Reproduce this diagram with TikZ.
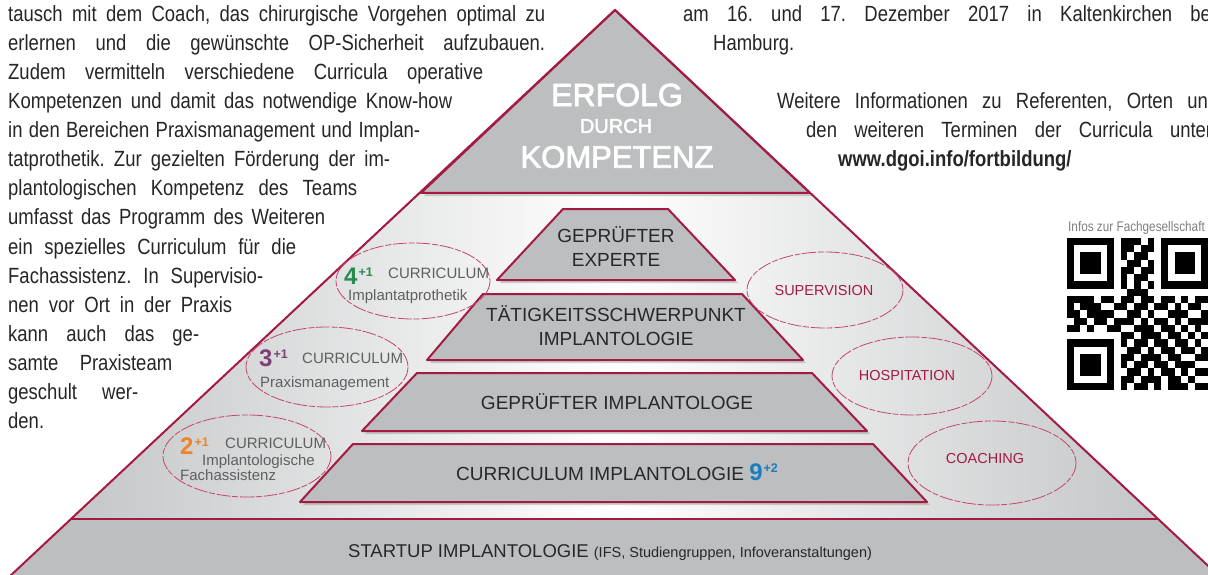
\documentclass[tikz,border=0pt]{standalone}
\usepackage{fontspec}
\setmainfont{Liberation Sans}
\newfontfamily\condfont[FakeStretch=0.84]{Liberation Sans}
\newfontfamily\medfont[FakeBold=2.5]{Liberation Sans}
\usetikzlibrary{shadows}
\frenchspacing

\definecolor{pyrred}{RGB}{163,27,66}
\definecolor{pyrgray}{RGB}{188,190,191}
\definecolor{sidegray}{RGB}{196,198,199}
\definecolor{ringred}{RGB}{196,70,104}
\definecolor{bodytxt}{RGB}{38,38,38}
\definecolor{tiertxt}{RGB}{40,40,40}
\definecolor{ringtxt}{RGB}{95,95,95}
\definecolor{currgreen}{RGB}{40,140,80}
\definecolor{currpurple}{RGB}{125,65,115}
\definecolor{currorange}{RGB}{240,130,40}
\definecolor{currblue}{RGB}{25,125,190}

\newcommand{\currnum}[2]{{\bfseries\fontsize{24}{24}\selectfont #1\kern1pt\raisebox{8pt}{\fontsize{12.5}{12.5}\selectfont #2}}}

\tikzset{
	tier/.style={fill=pyrgray, draw=pyrred, line width=2pt, line join=round, drop shadow={shadow xshift=3pt, shadow yshift=-3pt, opacity=.35}},
	tiertext/.style={text=tiertxt, font=\fontsize{19}{24}\selectfont, align=center, inner sep=0pt},
	ring/.style={draw=ringred, line width=.8pt, dash pattern=on 14pt off 2pt on 6pt off 1.5pt},
	ringtext/.style={text=ringtxt, font=\fontsize{15}{15}\selectfont, inner sep=0pt, anchor=base west},
	redtext/.style={text=pyrred, font=\fontsize{14.5}{14.5}\selectfont, inner sep=0pt},
	bodyline/.style={text=bodytxt, font=\condfont\fontsize{22}{29}\selectfont, inner sep=0pt, anchor=base west},
	toptext/.style={text=white, inner sep=0pt},
}

\begin{document}
\begin{tikzpicture}[x=1pt,y=-1pt]
	\useasboundingbox (0,0) rectangle (1208,575);
	\clip (0,0) rectangle (1208,575);
	\fill[white] (0,0) rectangle (1208,575);
	%% pyramid
	\fill[pyrgray] (71,519) -- (1158,519) -- (1220,577) -- (9,577) -- cycle;
	\fill[left color=sidegray, right color=sidegray, middle color=white] (421,193) -- (810,193) -- (1158,519) -- (71,519) -- cycle;
	\draw[pyrred, line width=2.5pt] (71,519) -- (1158,519);
	\draw[tier] (615,10) -- (810,193) -- (421,193) -- cycle;
	\draw[pyrred, line width=2pt] (9,577) -- (615,10) -- (1220,577);
	\draw[tier] (563,209) -- (668,209) -- (735,280) -- (497,280) -- cycle;
	\draw[tier] (483,294) -- (742,294) -- (803,360) -- (427,360) -- cycle;
	\draw[tier] (417,373) -- (812,373) -- (867,431) -- (362,431) -- cycle;
	\draw[tier] (353,444) -- (873,444) -- (927,502) -- (300,502) -- cycle;
	\node[toptext, font=\medfont\fontsize{32}{32}\selectfont] (erfolg) at (617,95) {ERFOLG};
	\node[toptext, font=\medfont\fontsize{20}{20}\selectfont] (durch) at (616,126) {DURCH};
	\node[toptext, font=\medfont\fontsize{31}{31}\selectfont] (kompetenz) at (617,157) {KOMPETENZ};
	\node[tiertext] (experte) at (616,247) {GEPRÜFTER\\EXPERTE};
	\node[tiertext] (schwerpunkt) at (616,326) {TÄTIGKEITSSCHWERPUNKT\\IMPLANTOLOGIE};
	\node[tiertext] (implantologe) at (617,402) {GEPRÜFTER IMPLANTOLOGE};
	\node[tiertext, anchor=base west] (curriculum) at (456,480) {CURRICULUM IMPLANTOLOGIE {\color{currblue}\currnum{9}{+2}}};
	\node[inner sep=0pt, anchor=base west, text=tiertxt] (startup) at (348,557) {\fontsize{18.5}{18.5}\selectfont STARTUP IMPLANTOLOGIE {\fontsize{14.5}{14.5}\selectfont(IFS, Studiengruppen, Infoveranstaltungen)}};
	%% ellipses
	\draw[ring] (413,281) ellipse [x radius=77, y radius=38];
	\draw[ring] (327,367) ellipse [x radius=81, y radius=40];
	\draw[ring] (247,456) ellipse [x radius=84, y radius=41];
	\draw[ring] (825,290) ellipse [x radius=78, y radius=38];
	\draw[ring] (912,376) ellipse [x radius=80, y radius=39];
	\draw[ring] (992,463) ellipse [x radius=84, y radius=42];
	\node[inner sep=0pt, anchor=base west, text=currgreen] (num4) at (344,284) {\currnum{4}{+1}};
	\node[ringtext] (cur4) at (388,278) {CURRICULUM};
	\node[ringtext] (prothetik) at (348,300) {Implantatprothetik};
	\node[inner sep=0pt, anchor=base west, text=currpurple] (num3) at (259,366) {\currnum{3}{+1}};
	\node[ringtext] (cur3) at (302,363) {CURRICULUM};
	\node[ringtext] (praxis) at (260,387) {Praxismanagement};
	\node[inner sep=0pt, anchor=base west, text=currorange] (num2) at (180,454) {\currnum{2}{+1}};
	\node[ringtext] (cur2) at (225,448) {CURRICULUM};
	\node[ringtext] (implant) at (202,465) {Implantologische};
	\node[ringtext] (fachass) at (180,480) {Fachassistenz};
	\node[redtext] (supervision) at (824,291) {SUPERVISION};
	\node[redtext] (hospitation) at (907,376) {HOSPITATION};
	\node[redtext] (coaching) at (985,459) {COACHING};
	%% text left
	\foreach \w/\txt [count=\k] in {537/{tausch mit dem Coach, das chirurgische Vorgehen optimal zu},
		537/{erlernen und die gewünschte OP-Sicherheit aufzubauen.},
		475/{Zudem vermitteln verschiedene Curricula operative},
		444/{Kompetenzen und damit das notwendige Know-how},
		412/{in den Bereichen Praxismanagement und Implan-},
		382/{tatprothetik. Zur gezielten Förderung der im-},
		349/{plantologischen Kompetenz des Teams},
		317/{umfasst das Programm des Weiteren},
		288/{ein spezielles Curriculum für die},
		255/{Fachassistenz. In Supervisio-},
		224/{nen vor Ort in der Praxis},
		191/{kann auch das ge-},
		164/{samte Praxisteam},
		130/{geschult wer-}}
		\node[bodyline] (bodyL\k) at (8,{21.5+29.07*(\k-1)}) {\makebox[\w pt][s]{\txt}};
	\node[bodyline] (bodyL15) at (8,428.5) {den.};
	%% text right
	\node[bodyline] (dateL) at (683,21.5) {\makebox[532pt][s]{am 16. und 17. Dezember 2017 in Kaltenkirchen bei}};
	\node[bodyline] (hamburg) at (713,50.6) {Hamburg.};
	\node[bodyline] (infoL1) at (777,108.7) {\makebox[441pt][s]{Weitere Informationen zu Referenten, Orten und}};
	\node[bodyline] (infoL2) at (806,137.8) {\makebox[406pt][s]{den weiteren Terminen der Curricula unter}};
	\node[bodyline, font=\condfont\bfseries\fontsize{22}{29}\selectfont] (url) at (838,166.9) {www.dgoi.info/fortbildung/};
	\node[inner sep=0pt, anchor=base west, text=black!50, font=\condfont\fontsize{14}{14}\selectfont] (qrinfo) at (1068,231) {Infos zur Fachgesellschaft};
	%% QR
	\begin{scope}[shift={(1067,238)}, x=6.72pt, y=-7.24pt]
		\foreach \fx/\fy in {0/0,14/0,0/14}{
			\fill (\fx,\fy) rectangle ++(7,7);
			\fill[white] (\fx+1,\fy+1) rectangle ++(5,5);
			\fill (\fx+2,\fy+2) rectangle ++(3,3);
		}
		\foreach \r/\cs in {0/{8,9,10,12},1/{8,9,11,12},2/{8,10,11},3/{9,10,12},4/{8,9,11,12},5/{8,10,11},6/{8,10,12},7/{9,10,11},
			8/{0,1,2,3,5,6,8,9,11,12,14,15,17,19,20},9/{0,2,3,4,7,8,10,11,13,14,16,18,19},10/{0,1,3,4,5,6,9,10,12,15,16,17,20},
			11/{1,2,4,5,7,8,9,11,13,14,16,18,19,20},12/{0,1,3,6,7,10,11,12,14,15,17,19},13/{8,9,11,12,13,15,16,18,20},
			14/{8,10,11,13,14,16,17,19},15/{9,10,12,14,15,17,18,20},16/{8,9,11,12,13,15,16,19,20},17/{8,10,11,13,14,16,17,18},
			18/{9,10,12,14,15,17,19,20},19/{8,9,11,12,13,15,16,18},20/{8,10,11,13,15,16,17,19,20}}{
			\foreach \c in \cs {\fill (\c,\r) rectangle ++(1,1);}
		}
	\end{scope}
\end{tikzpicture}
\end{document}
